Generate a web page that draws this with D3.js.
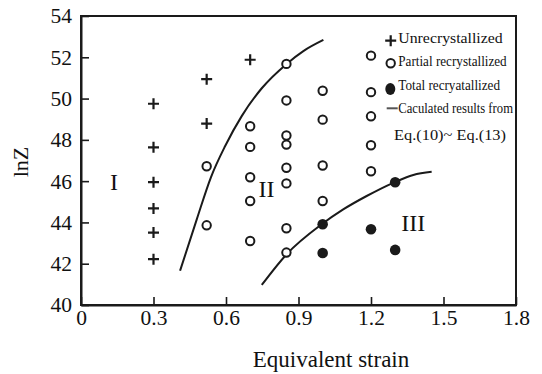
<!DOCTYPE html>
<html>
<head>
<meta charset="utf-8">
<script src="https://cdn.jsdelivr.net/npm/d3@7"></script>
<style>
  html, body { margin: 0; padding: 0; background: #fff; }
  svg { display: block; }
  text { font-family: "Liberation Serif", "Times New Roman", serif; fill: #111; }
</style>
</head>
<body>
<svg id="chart" width="542" height="374"></svg>
<script>
// Unrecrystallized specimens (strain, lnZ)
const unrecStrain = [0.3, 0.3, 0.3, 0.3, 0.3, 0.3, 0.52, 0.52, 0.70];
const unrecLnZ    = [49.75, 47.64, 45.95, 44.68, 43.51, 42.22, 50.94, 48.79, 51.88];

// Partially recrystallized specimens
const partStrain = [0.52, 0.52,
                    0.70, 0.70, 0.70, 0.70, 0.70,
                    0.85, 0.85, 0.85, 0.85, 0.85, 0.85, 0.85, 0.85,
                    1.0, 1.0, 1.0, 1.0,
                    1.2, 1.2, 1.2, 1.2, 1.2];
const partLnZ    = [46.72, 43.86,
                    48.66, 47.66, 46.19, 45.04, 43.10,
                    51.68, 49.91, 48.21, 47.77, 46.65, 45.89, 43.72, 42.54,
                    50.38, 48.98, 46.76, 45.04,
                    52.08, 50.31, 49.14, 47.74, 46.48];

// Fully recrystallized specimens
const totalStrain = [1.0, 1.0, 1.2, 1.3, 1.3];
const totalLnZ    = [43.91, 42.52, 43.67, 45.95, 42.67];

// Calculated boundaries from Eq.(10)~Eq.(13)
const boundary1Strain = [0.410, 0.479, 0.538, 0.596, 0.665, 0.748, 0.851, 0.920, 1.003];
const boundary1LnZ    = [41.66, 44.15, 46.20, 47.69, 49.15, 50.50, 51.68, 52.30, 52.84];
const boundary2Strain = [0.748, 0.851, 0.996, 1.085, 1.182, 1.292, 1.375, 1.451];
const boundary2LnZ    = [40.97, 42.46, 43.91, 44.63, 45.28, 45.92, 46.30, 46.45];

// Region labels
const regionNames  = ["I", "II", "III"];
const regionStrain = [0.137, 0.768, 1.375];
const regionLnZ    = [45.95, 45.63, 43.99];

// Axis ticks
const xTicks = [0, 0.3, 0.6, 0.9, 1.2, 1.5, 1.8];
const yTicks = [40, 42, 44, 46, 48, 50, 52, 54];

const legendLabels = ["Unrecrystallized", "Partial recrystallized", "Total recryatallized",
                      "Caculated results from", "Eq.(10)~ Eq.(13)"];

const svg = d3.select("#chart");
const ink = "#1a1a1a";

const plotLeft = 81, plotRight = 516, plotTop = 16, plotBottom = 305;
const x = d3.scaleLinear().domain([0, 1.8]).range([plotLeft, plotRight]);
const y = d3.scaleLinear().domain([40, 54]).range([plotBottom, plotTop]);

// Frame
svg.append("rect")
  .attr("x", plotLeft).attr("y", plotTop)
  .attr("width", plotRight - plotLeft).attr("height", plotBottom - plotTop)
  .attr("fill", "none").attr("stroke", ink).attr("stroke-width", 2);

// Axes with inward ticks
const xAxis = d3.axisBottom(x).tickValues(xTicks)
  .tickFormat(d => d === 0 ? "0" : d3.format(".1f")(d))
  .tickSizeInner(-8).tickSizeOuter(0).tickPadding(5);
const yAxis = d3.axisLeft(y).tickValues(yTicks)
  .tickFormat(d3.format("d"))
  .tickSizeInner(-8).tickSizeOuter(0).tickPadding(9);

const gx = svg.append("g").attr("transform", `translate(0,${plotBottom})`).call(xAxis);
const gy = svg.append("g").attr("transform", `translate(${plotLeft},0)`).call(yAxis);
[gx, gy].forEach(g => {
  g.select(".domain").attr("stroke", ink).attr("stroke-width", 2);
  g.selectAll(".tick line").attr("stroke", ink).attr("stroke-width", 1.6);
  g.selectAll(".tick text")
    .attr("font-family", "'Liberation Serif', 'Times New Roman', serif")
    .attr("font-size", 21.5).attr("fill", ink);
});

// Axis titles
svg.append("text")
  .attr("x", 331).attr("y", 367)
  .attr("text-anchor", "middle").attr("font-size", 23)
  .text("Equivalent strain");
svg.append("text")
  .attr("transform", "translate(28,162) rotate(-90)")
  .attr("text-anchor", "middle").attr("font-size", 22)
  .text("lnZ");

// Boundary curves
const line = d3.line().x(d => x(d[0])).y(d => y(d[1])).curve(d3.curveMonotoneX);
[[boundary1Strain, boundary1LnZ], [boundary2Strain, boundary2LnZ]].forEach(([xs, ys]) => {
  svg.append("path")
    .datum(xs.map((v, i) => [v, ys[i]]))
    .attr("d", line)
    .attr("fill", "none").attr("stroke", ink).attr("stroke-width", 2);
});

// Markers
const crossPath = "M-5.5,0H5.5M0,-5.5V5.5";
svg.append("g").selectAll("path")
  .data(unrecStrain.map((v, i) => [v, unrecLnZ[i]]))
  .join("path")
  .attr("d", crossPath)
  .attr("transform", d => `translate(${x(d[0])},${y(d[1])})`)
  .attr("stroke", ink).attr("stroke-width", 2.2).attr("fill", "none");

svg.append("g").selectAll("circle")
  .data(partStrain.map((v, i) => [v, partLnZ[i]]))
  .join("circle")
  .attr("cx", d => x(d[0])).attr("cy", d => y(d[1])).attr("r", 4.2)
  .attr("fill", "#fff").attr("stroke", ink).attr("stroke-width", 2);

svg.append("g").selectAll("circle")
  .data(totalStrain.map((v, i) => [v, totalLnZ[i]]))
  .join("circle")
  .attr("cx", d => x(d[0])).attr("cy", d => y(d[1])).attr("r", 5.3)
  .attr("fill", ink);

// Region labels
svg.append("g").selectAll("text")
  .data(regionNames.map((n, i) => [n, regionStrain[i], regionLnZ[i]]))
  .join("text")
  .attr("x", d => x(d[1])).attr("y", d => y(d[2]))
  .attr("text-anchor", "middle").attr("dominant-baseline", "central")
  .attr("font-size", 24)
  .text(d => d[0]);

// Legend
const lg = svg.append("g");
lg.append("path").attr("d", crossPath).attr("transform", "translate(390.7,40.7)")
  .attr("stroke", ink).attr("stroke-width", 2.2);
lg.append("circle").attr("cx", 390.7).attr("cy", 63.3).attr("r", 4.2)
  .attr("fill", "#fff").attr("stroke", ink).attr("stroke-width", 2);
lg.append("ellipse").attr("cx", 390.3).attr("cy", 89).attr("rx", 5).attr("ry", 6)
  .attr("fill", ink);
lg.append("line").attr("x1", 386.7).attr("x2", 397.7).attr("y1", 108.3).attr("y2", 108.3)
  .attr("stroke", "#555").attr("stroke-width", 2);

const legendPos = [[398.3, 42.7, 104.4], [398.3, 65.7, 108.4], [398.3, 90, 101.7],
                   [398.3, 113.3, 114.7], [394, 140, 112]];
legendLabels.forEach((t, i) => {
  const [lx, ly, lw] = legendPos[i];
  lg.append("text")
    .attr("x", lx).attr("y", ly)
    .attr("font-size", 15.5)
    .attr("textLength", lw).attr("lengthAdjust", "spacingAndGlyphs")
    .text(t);
});
</script>
</body>
</html>
